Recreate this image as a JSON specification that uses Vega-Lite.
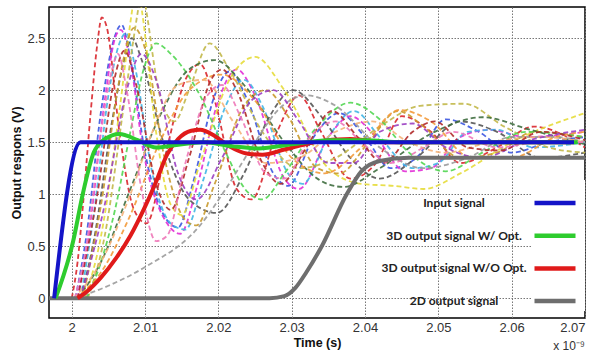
{
  "$schema": "https://vega.github.io/schema/vega-lite/v6.json",
  "width": 536,
  "height": 311,
  "autosize": {"type": "none"},
  "padding": {"left": 49, "top": 7, "right": 21, "bottom": 37},
  "background": "white",
  "title": {"text": "x 10⁻⁹", "orient": "bottom", "anchor": "end", "frame": "group", "font": "Liberation Sans", "fontSize": 12, "fontWeight": "normal", "color": "#333", "offset": -8},
  "datasets": {
    "dashed": [
      {"c":"c1","t":2.0,"v":0},{"c":"c1","t":2.0008,"v":0.35},{"c":"c1","t":2.0016,"v":0.95},{"c":"c1","t":2.0026,"v":1.8},{"c":"c1","t":2.0035,"v":2.45},{"c":"c1","t":2.0041,"v":2.7},{"c":"c1","t":2.0048,"v":2.6},{"c":"c1","t":2.0065,"v":1.6},{"c":"c1","t":2.0085,"v":0.85},{"c":"c1","t":2.0102,"v":0.72},{"c":"c1","t":2.0125,"v":1.3},{"c":"c1","t":2.0155,"v":2.1},{"c":"c1","t":2.0175,"v":2.25},{"c":"c1","t":2.0195,"v":1.9},{"c":"c1","t":2.0225,"v":1.05},{"c":"c1","t":2.0245,"v":0.95},{"c":"c1","t":2.028,"v":1.6},{"c":"c1","t":2.031,"v":1.95},{"c":"c1","t":2.034,"v":1.6},{"c":"c1","t":2.038,"v":1.15},{"c":"c1","t":2.0415,"v":1.3},{"c":"c1","t":2.045,"v":1.75},{"c":"c1","t":2.049,"v":1.6},{"c":"c1","t":2.053,"v":1.3},{"c":"c1","t":2.058,"v":1.45},{"c":"c1","t":2.063,"v":1.65},{"c":"c1","t":2.07,"v":1.45},

      {"c":"c2","t":2.0005,"v":0},{"c":"c2","t":2.002,"v":0.6},{"c":"c2","t":2.004,"v":1.8},{"c":"c2","t":2.0058,"v":2.5},{"c":"c2","t":2.0068,"v":2.63},{"c":"c2","t":2.008,"v":2.3},{"c":"c2","t":2.01,"v":1.4},{"c":"c2","t":2.013,"v":0.75},{"c":"c2","t":2.0145,"v":0.68},{"c":"c2","t":2.0165,"v":1.1},{"c":"c2","t":2.0195,"v":1.95},{"c":"c2","t":2.0215,"v":2.18},{"c":"c2","t":2.024,"v":1.9},{"c":"c2","t":2.0275,"v":1.2},{"c":"c2","t":2.0295,"v":1.08},{"c":"c2","t":2.033,"v":1.55},{"c":"c2","t":2.0365,"v":1.78},{"c":"c2","t":2.04,"v":1.55},{"c":"c2","t":2.0435,"v":1.25},{"c":"c2","t":2.047,"v":1.35},{"c":"c2","t":2.051,"v":1.72},{"c":"c2","t":2.0555,"v":1.6},{"c":"c2","t":2.06,"v":1.4},{"c":"c2","t":2.065,"v":1.5},{"c":"c2","t":2.07,"v":1.55},

      {"c":"c3","t":2.0008,"v":0},{"c":"c3","t":2.0025,"v":0.7},{"c":"c3","t":2.0045,"v":1.9},{"c":"c3","t":2.006,"v":2.52},{"c":"c3","t":2.0067,"v":2.58},{"c":"c3","t":2.0078,"v":2.35},{"c":"c3","t":2.0098,"v":1.4},{"c":"c3","t":2.013,"v":0.72},{"c":"c3","t":2.0148,"v":0.62},{"c":"c3","t":2.017,"v":1.05},{"c":"c3","t":2.02,"v":1.9},{"c":"c3","t":2.0225,"v":2.2},{"c":"c3","t":2.025,"v":1.95},{"c":"c3","t":2.029,"v":1.15},{"c":"c3","t":2.031,"v":1.05},{"c":"c3","t":2.035,"v":1.55},{"c":"c3","t":2.038,"v":1.75},{"c":"c3","t":2.0415,"v":1.55},{"c":"c3","t":2.0455,"v":1.22},{"c":"c3","t":2.049,"v":1.25},{"c":"c3","t":2.053,"v":1.55},{"c":"c3","t":2.057,"v":1.62},{"c":"c3","t":2.062,"v":1.55},{"c":"c3","t":2.07,"v":1.6},

      {"c":"c4","t":2.0012,"v":0},{"c":"c4","t":2.003,"v":0.8},{"c":"c4","t":2.005,"v":1.95},{"c":"c4","t":2.0065,"v":2.45},{"c":"c4","t":2.0074,"v":2.55},{"c":"c4","t":2.0087,"v":2.2},{"c":"c4","t":2.011,"v":1.2},{"c":"c4","t":2.0135,"v":0.72},{"c":"c4","t":2.0155,"v":0.66},{"c":"c4","t":2.018,"v":1.15},{"c":"c4","t":2.021,"v":1.85},{"c":"c4","t":2.0235,"v":2.1},{"c":"c4","t":2.026,"v":1.85},{"c":"c4","t":2.0295,"v":1.2},{"c":"c4","t":2.0315,"v":1.1},{"c":"c4","t":2.035,"v":1.55},{"c":"c4","t":2.0385,"v":1.8},{"c":"c4","t":2.042,"v":1.55},{"c":"c4","t":2.0465,"v":1.25},{"c":"c4","t":2.05,"v":1.3},{"c":"c4","t":2.054,"v":1.6},{"c":"c4","t":2.058,"v":1.62},{"c":"c4","t":2.063,"v":1.45},{"c":"c4","t":2.07,"v":1.5},

      {"c":"c5","t":2.0012,"v":0},{"c":"c5","t":2.003,"v":0.55},{"c":"c5","t":2.0055,"v":1.7},{"c":"c5","t":2.0072,"v":2.3},{"c":"c5","t":2.0082,"v":2.5},{"c":"c5","t":2.0095,"v":2.3},{"c":"c5","t":2.0125,"v":1.5},{"c":"c5","t":2.016,"v":0.95},{"c":"c5","t":2.0198,"v":0.82},{"c":"c5","t":2.0235,"v":1.2},{"c":"c5","t":2.027,"v":1.75},{"c":"c5","t":2.0302,"v":2.0},{"c":"c5","t":2.034,"v":1.75},{"c":"c5","t":2.038,"v":1.35},{"c":"c5","t":2.042,"v":1.15},{"c":"c5","t":2.047,"v":1.35},{"c":"c5","t":2.053,"v":1.7},{"c":"c5","t":2.058,"v":1.6},{"c":"c5","t":2.064,"v":1.35},{"c":"c5","t":2.07,"v":1.4},

      {"c":"c6","t":2.0018,"v":0},{"c":"c6","t":2.004,"v":0.6},{"c":"c6","t":2.0065,"v":1.8},{"c":"c6","t":2.0082,"v":2.75},{"c":"c6","t":2.0089,"v":3.05},{"c":"c6","t":2.0096,"v":2.75},{"c":"c6","t":2.0115,"v":1.6},{"c":"c6","t":2.0135,"v":0.9},{"c":"c6","t":2.015,"v":0.8},{"c":"c6","t":2.0175,"v":1.3},{"c":"c6","t":2.0215,"v":2.1},{"c":"c6","t":2.025,"v":2.32},{"c":"c6","t":2.029,"v":2.0},{"c":"c6","t":2.035,"v":1.25},{"c":"c6","t":2.0395,"v":1.1},{"c":"c6","t":2.044,"v":1.08},{"c":"c6","t":2.048,"v":1.05},{"c":"c6","t":2.053,"v":1.2},{"c":"c6","t":2.06,"v":1.5},{"c":"c6","t":2.07,"v":1.78},

      {"c":"c7","t":2.0022,"v":0},{"c":"c7","t":2.0045,"v":0.6},{"c":"c7","t":2.0072,"v":1.9},{"c":"c7","t":2.009,"v":2.75},{"c":"c7","t":2.0096,"v":3.0},{"c":"c7","t":2.0102,"v":2.75},{"c":"c7","t":2.012,"v":1.95},{"c":"c7","t":2.014,"v":1.7},{"c":"c7","t":2.016,"v":2.0},{"c":"c7","t":2.0188,"v":2.45},{"c":"c7","t":2.0215,"v":2.2},{"c":"c7","t":2.026,"v":1.6},{"c":"c7","t":2.031,"v":1.25},{"c":"c7","t":2.036,"v":1.35},{"c":"c7","t":2.042,"v":1.65},{"c":"c7","t":2.0475,"v":1.85},{"c":"c7","t":2.0535,"v":1.87},{"c":"c7","t":2.059,"v":1.65},{"c":"c7","t":2.065,"v":1.45},{"c":"c7","t":2.07,"v":1.4},

      {"c":"c8","t":2.0015,"v":0},{"c":"c8","t":2.004,"v":0.9},{"c":"c8","t":2.0065,"v":2.1},{"c":"c8","t":2.0085,"v":2.6},{"c":"c8","t":2.0102,"v":2.35},{"c":"c8","t":2.0125,"v":1.4},{"c":"c8","t":2.0155,"v":0.75},{"c":"c8","t":2.017,"v":0.7},{"c":"c8","t":2.0195,"v":1.1},{"c":"c8","t":2.0235,"v":1.85},{"c":"c8","t":2.0265,"v":2.0},{"c":"c8","t":2.0295,"v":1.75},{"c":"c8","t":2.0335,"v":1.25},{"c":"c8","t":2.0365,"v":1.2},{"c":"c8","t":2.0405,"v":1.5},{"c":"c8","t":2.0445,"v":1.8},{"c":"c8","t":2.048,"v":1.65},{"c":"c8","t":2.053,"v":1.35},{"c":"c8","t":2.058,"v":1.4},{"c":"c8","t":2.063,"v":1.6},{"c":"c8","t":2.07,"v":1.55},

      {"c":"c9","t":2.002,"v":0},{"c":"c9","t":2.004,"v":0.35},{"c":"c9","t":2.0059,"v":0.85},{"c":"c9","t":2.008,"v":1.6},{"c":"c9","t":2.0098,"v":2.2},{"c":"c9","t":2.0115,"v":2.45},{"c":"c9","t":2.0135,"v":2.35},{"c":"c9","t":2.0175,"v":1.95},{"c":"c9","t":2.021,"v":1.4},{"c":"c9","t":2.024,"v":1.02},{"c":"c9","t":2.026,"v":0.95},{"c":"c9","t":2.029,"v":1.2},{"c":"c9","t":2.0335,"v":1.65},{"c":"c9","t":2.038,"v":1.88},{"c":"c9","t":2.042,"v":1.72},{"c":"c9","t":2.046,"v":1.4},{"c":"c9","t":2.051,"v":1.22},{"c":"c9","t":2.056,"v":1.4},{"c":"c9","t":2.062,"v":1.6},{"c":"c9","t":2.07,"v":1.55},

      {"c":"c10","t":2.0008,"v":0},{"c":"c10","t":2.004,"v":0.35},{"c":"c10","t":2.008,"v":1.05},{"c":"c10","t":2.012,"v":1.75},{"c":"c10","t":2.016,"v":2.2},{"c":"c10","t":2.0195,"v":2.29},{"c":"c10","t":2.0235,"v":2.05},{"c":"c10","t":2.029,"v":1.5},{"c":"c10","t":2.0335,"v":1.15},{"c":"c10","t":2.037,"v":1.07},{"c":"c10","t":2.042,"v":1.25},{"c":"c10","t":2.0495,"v":1.6},{"c":"c10","t":2.056,"v":1.74},{"c":"c10","t":2.0625,"v":1.62},{"c":"c10","t":2.07,"v":1.48},

      {"c":"c11","t":2.0005,"v":0},{"c":"c11","t":2.005,"v":0.12},{"c":"c11","t":2.01,"v":0.3},{"c":"c11","t":2.0175,"v":0.7},{"c":"c11","t":2.021,"v":1.05},{"c":"c11","t":2.025,"v":1.5},{"c":"c11","t":2.028,"v":1.8},{"c":"c11","t":2.032,"v":1.95},{"c":"c11","t":2.036,"v":1.85},{"c":"c11","t":2.042,"v":1.45},{"c":"c11","t":2.048,"v":1.25},{"c":"c11","t":2.054,"v":1.35},{"c":"c11","t":2.06,"v":1.55},{"c":"c11","t":2.066,"v":1.55},{"c":"c11","t":2.07,"v":1.5},

      {"c":"c12","t":2.0005,"v":0},{"c":"c12","t":2.004,"v":0.25},{"c":"c12","t":2.008,"v":0.8},{"c":"c12","t":2.012,"v":1.5},{"c":"c12","t":2.016,"v":2.0},{"c":"c12","t":2.0205,"v":2.15},{"c":"c12","t":2.025,"v":1.9},{"c":"c12","t":2.03,"v":1.35},{"c":"c12","t":2.0345,"v":1.2},{"c":"c12","t":2.0395,"v":1.45},{"c":"c12","t":2.0447,"v":1.81},{"c":"c12","t":2.049,"v":1.7},{"c":"c12","t":2.0545,"v":1.35},{"c":"c12","t":2.06,"v":1.35},{"c":"c12","t":2.066,"v":1.55},{"c":"c12","t":2.07,"v":1.6},

      {"c":"c13","t":2.0003,"v":0},{"c":"c13","t":2.004,"v":0.35},{"c":"c13","t":2.008,"v":1.0},{"c":"c13","t":2.011,"v":1.6},{"c":"c13","t":2.0145,"v":2.05},{"c":"c13","t":2.018,"v":2.1},{"c":"c13","t":2.022,"v":1.7},{"c":"c13","t":2.0265,"v":1.3},{"c":"c13","t":2.031,"v":1.35},{"c":"c13","t":2.036,"v":1.6},{"c":"c13","t":2.041,"v":1.7},{"c":"c13","t":2.046,"v":1.5},{"c":"c13","t":2.051,"v":1.4},{"c":"c13","t":2.057,"v":1.5},{"c":"c13","t":2.064,"v":1.55},{"c":"c13","t":2.07,"v":1.5},

      {"c":"c14","t":2.0012,"v":0},{"c":"c14","t":2.0045,"v":0.9},{"c":"c14","t":2.0075,"v":2.0},{"c":"c14","t":2.0095,"v":2.35},{"c":"c14","t":2.0115,"v":2.1},{"c":"c14","t":2.0145,"v":1.2},{"c":"c14","t":2.017,"v":0.95},{"c":"c14","t":2.0205,"v":1.35},{"c":"c14","t":2.0245,"v":1.9},{"c":"c14","t":2.0275,"v":2.0},{"c":"c14","t":2.031,"v":1.7},{"c":"c14","t":2.035,"v":1.3},{"c":"c14","t":2.0385,"v":1.3},{"c":"c14","t":2.042,"v":1.6},{"c":"c14","t":2.0465,"v":1.68},{"c":"c14","t":2.051,"v":1.45},{"c":"c14","t":2.056,"v":1.35},{"c":"c14","t":2.0615,"v":1.5},{"c":"c14","t":2.07,"v":1.62},

      {"c":"c15","t":2.0008,"v":0},{"c":"c15","t":2.0035,"v":1.0},{"c":"c15","t":2.0058,"v":2.1},{"c":"c15","t":2.0072,"v":2.38},{"c":"c15","t":2.0088,"v":2.05},{"c":"c15","t":2.0115,"v":1.1},{"c":"c15","t":2.0135,"v":0.85},{"c":"c15","t":2.016,"v":1.35},{"c":"c15","t":2.019,"v":2.1},{"c":"c15","t":2.0205,"v":2.2},{"c":"c15","t":2.0225,"v":2.0},{"c":"c15","t":2.026,"v":1.3},{"c":"c15","t":2.0285,"v":1.1},{"c":"c15","t":2.032,"v":1.45},{"c":"c15","t":2.0355,"v":1.8},{"c":"c15","t":2.039,"v":1.55},{"c":"c15","t":2.0425,"v":1.3},{"c":"c15","t":2.0465,"v":1.6},{"c":"c15","t":2.0495,"v":1.7},{"c":"c15","t":2.054,"v":1.45},{"c":"c15","t":2.0585,"v":1.42},{"c":"c15","t":2.064,"v":1.6},{"c":"c15","t":2.07,"v":1.52},

      {"c":"c16","t":2.0004,"v":0},{"c":"c16","t":2.002,"v":0.5},{"c":"c16","t":2.004,"v":1.6},{"c":"c16","t":2.0055,"v":2.2},{"c":"c16","t":2.0063,"v":2.35},{"c":"c16","t":2.0075,"v":2.0},{"c":"c16","t":2.0095,"v":1.05},{"c":"c16","t":2.0115,"v":0.55},{"c":"c16","t":2.013,"v":0.6},{"c":"c16","t":2.0155,"v":1.3},{"c":"c16","t":2.0185,"v":1.95},{"c":"c16","t":2.0205,"v":2.05},{"c":"c16","t":2.023,"v":1.75},{"c":"c16","t":2.0265,"v":1.2},{"c":"c16","t":2.029,"v":1.15},{"c":"c16","t":2.0325,"v":1.55},{"c":"c16","t":2.036,"v":1.7},{"c":"c16","t":2.0395,"v":1.5},{"c":"c16","t":2.0435,"v":1.3},{"c":"c16","t":2.048,"v":1.45},{"c":"c16","t":2.052,"v":1.6},{"c":"c16","t":2.058,"v":1.45},{"c":"c16","t":2.064,"v":1.5},{"c":"c16","t":2.07,"v":1.5}
    ],
    "solid": [
      {"s":"2D output signal","t":1.9969,"v":0},{"s":"2D output signal","t":2.027,"v":0},{"s":"2D output signal","t":2.029,"v":0.02},{"s":"2D output signal","t":2.0305,"v":0.1},{"s":"2D output signal","t":2.032,"v":0.25},{"s":"2D output signal","t":2.0341,"v":0.5},{"s":"2D output signal","t":2.0375,"v":1.0},{"s":"2D output signal","t":2.0395,"v":1.22},{"s":"2D output signal","t":2.042,"v":1.32},{"s":"2D output signal","t":2.046,"v":1.35},{"s":"2D output signal","t":2.07,"v":1.35},

      {"s":"3D output signal W/O Opt.","t":2.0008,"v":0},{"s":"3D output signal W/O Opt.","t":2.002,"v":0.06},{"s":"3D output signal W/O Opt.","t":2.004,"v":0.2},{"s":"3D output signal W/O Opt.","t":2.006,"v":0.38},{"s":"3D output signal W/O Opt.","t":2.008,"v":0.6},{"s":"3D output signal W/O Opt.","t":2.01,"v":0.88},{"s":"3D output signal W/O Opt.","t":2.0115,"v":1.12},{"s":"3D output signal W/O Opt.","t":2.013,"v":1.38},{"s":"3D output signal W/O Opt.","t":2.0145,"v":1.53},{"s":"3D output signal W/O Opt.","t":2.0163,"v":1.61},{"s":"3D output signal W/O Opt.","t":2.0175,"v":1.62},{"s":"3D output signal W/O Opt.","t":2.0195,"v":1.56},{"s":"3D output signal W/O Opt.","t":2.0215,"v":1.46},{"s":"3D output signal W/O Opt.","t":2.024,"v":1.39},{"s":"3D output signal W/O Opt.","t":2.026,"v":1.38},{"s":"3D output signal W/O Opt.","t":2.029,"v":1.43},{"s":"3D output signal W/O Opt.","t":2.033,"v":1.5},{"s":"3D output signal W/O Opt.","t":2.038,"v":1.53},{"s":"3D output signal W/O Opt.","t":2.043,"v":1.5},{"s":"3D output signal W/O Opt.","t":2.0685,"v":1.5},

      {"s":"3D output signal W/  Opt.","t":1.9978,"v":0},{"s":"3D output signal W/  Opt.","t":2.0002,"v":0.55},{"s":"3D output signal W/  Opt.","t":2.0015,"v":1.0},{"s":"3D output signal W/  Opt.","t":2.003,"v":1.4},{"s":"3D output signal W/  Opt.","t":2.0045,"v":1.53},{"s":"3D output signal W/  Opt.","t":2.0065,"v":1.58},{"s":"3D output signal W/  Opt.","t":2.009,"v":1.52},{"s":"3D output signal W/  Opt.","t":2.0115,"v":1.45},{"s":"3D output signal W/  Opt.","t":2.014,"v":1.47},{"s":"3D output signal W/  Opt.","t":2.018,"v":1.5},{"s":"3D output signal W/  Opt.","t":2.022,"v":1.46},{"s":"3D output signal W/  Opt.","t":2.0255,"v":1.44},{"s":"3D output signal W/  Opt.","t":2.03,"v":1.48},{"s":"3D output signal W/  Opt.","t":2.035,"v":1.52},{"s":"3D output signal W/  Opt.","t":2.04,"v":1.52},{"s":"3D output signal W/  Opt.","t":2.045,"v":1.5},{"s":"3D output signal W/  Opt.","t":2.069,"v":1.5},

      {"s":"Input signal","t":1.9976,"v":0},{"s":"Input signal","t":2.0012,"v":1.5},{"s":"Input signal","t":2.0685,"v":1.5}
    ]
  },
  "layer": [
    {
      "data": {"name": "dashed"},
      "mark": {"type": "line", "interpolate": "monotone", "strokeDash": [5, 3], "strokeWidth": 1.8, "clip": true, "opacity": 0.9},
      "encoding": {
        "x": {"field": "t", "type": "quantitative", "scale": {"domain": [1.9969, 2.07], "nice": false, "zero": false},
              "axis": {"values": [2, 2.01, 2.02, 2.03, 2.04, 2.05, 2.06, 2.07], "format": "~g", "title": "Time (s)", "grid": true, "labelPadding": 3, "titlePadding": 2}},
        "y": {"field": "v", "type": "quantitative", "scale": {"domain": [-0.19, 2.8], "nice": false, "zero": false},
              "axis": {"values": [0, 0.5, 1, 1.5, 2, 2.5], "format": "~g", "title": "Output respons (V)", "grid": true, "labelPadding": 4, "titlePadding": 3}},
        "color": {"field": "c", "type": "nominal", "legend": null,
                  "scale": {"domain": ["c1","c2","c3","c4","c5","c6","c7","c8","c9","c10","c11","c12","c13","c14","c15","c16"],
                            "range": ["#d9262c","#3b55e0","#e22fd6","#41b6e6","#555555","#e6dc3a","#c2b84a","#c99a2e","#52d652","#3f6e3f","#9b9b9b","#f39a3a","#f4b27a","#9b3fc2","#b02a2a","#ee78b8"]}}
      }
    },
    {
      "data": {"name": "solid"},
      "mark": {"type": "line", "interpolate": "monotone", "strokeWidth": 4, "clip": true},
      "encoding": {
        "x": {"field": "t", "type": "quantitative", "scale": {"domain": [1.9969, 2.07], "nice": false, "zero": false}},
        "y": {"field": "v", "type": "quantitative", "scale": {"domain": [-0.19, 2.8], "nice": false, "zero": false}},
        "color": {"field": "s", "type": "nominal",
                  "scale": {"domain": ["Input signal", "3D output signal W/  Opt.", "3D output signal W/O Opt.", "2D output signal"],
                            "range": ["#1414c8", "#2ecc2e", "#e01a1a", "#6e6e6e"]},
                  "legend": {"title": null, "orient": "none", "legendX": 483, "legendY": 173, "symbolType": "stroke", "symbolSize": 1681, "symbolStrokeWidth": 4.5,
                             "labelFont": "Lato", "labelFontWeight": "bold", "labelFontSize": 12, "labelColor": "#222", "labelAlign": "center", "labelOffset": -124,
                             "rowPadding": 0.7, "fillColor": "white", "padding": 0, "labelLimit": 300}}
      }
    }
  ],
  "resolve": {"scale": {"color": "independent"}},
  "config": {
    "view": {"stroke": "#000", "strokeWidth": 1.5},
    "axis": {"labelFont": "Liberation Sans", "labelFontSize": 13, "labelColor": "#333", "titleFont": "Liberation Sans", "titleFontWeight": "bold", "titleFontSize": 12.5, "titleColor": "#111", "gridColor": "#777", "gridDash": [1.5, 1.5], "gridOpacity": 1, "domain": false, "ticks": false}
  }
}
